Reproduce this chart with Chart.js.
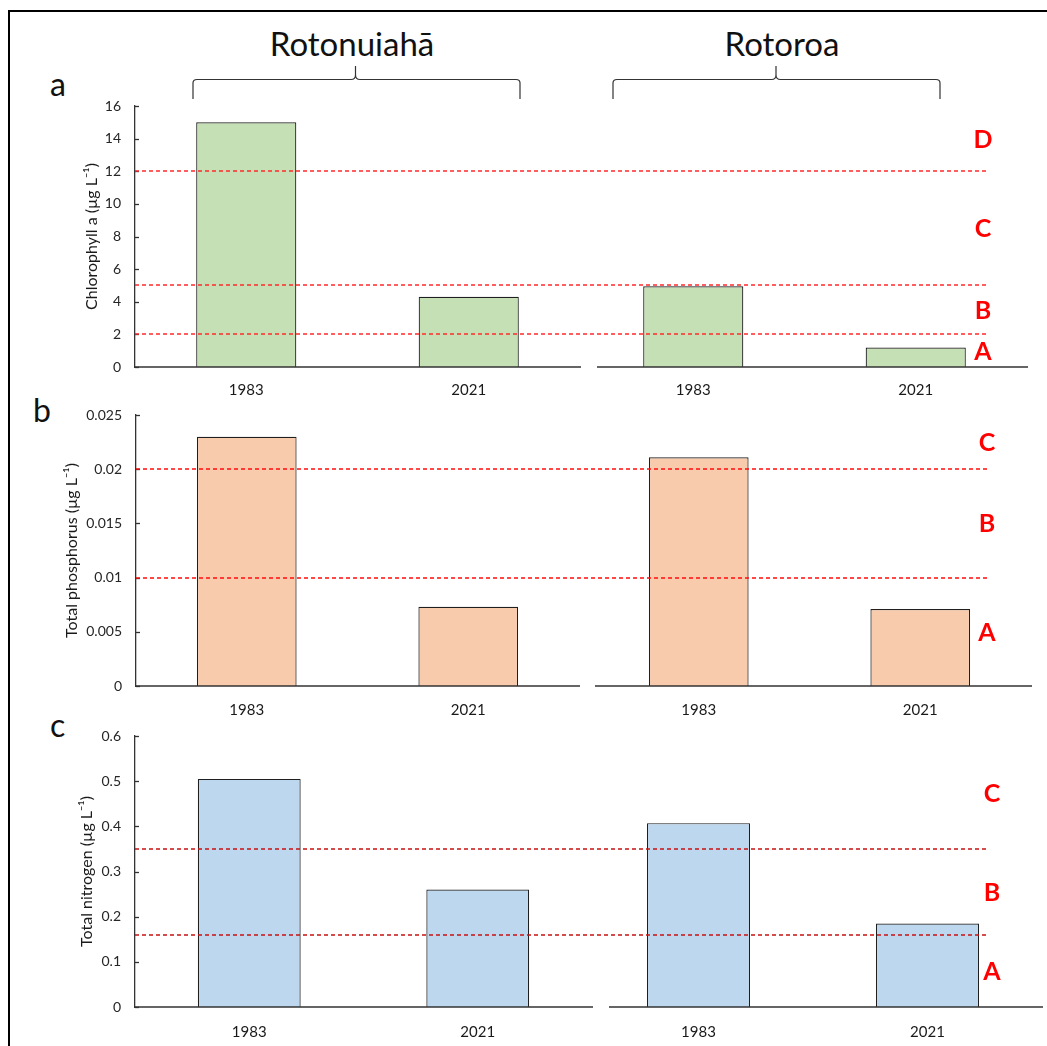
<!DOCTYPE html>
<html>
<head>
<meta charset="utf-8">
<script src="https://cdn.jsdelivr.net/npm/chart.js@4.4.1/dist/chart.umd.min.js"></script>
<style>
  html, body { margin:0; padding:0; background:#fff; }
  body { width:1047px; height:1046px; overflow:hidden; position:relative; font-family: Lato, 'Liberation Sans', sans-serif; }
  canvas { position:absolute; }
  .frame { position:absolute; left:8px; top:10px; width:1200px; height:1200px; border-top:2px solid #000; border-left:2px solid #000; }
  .lake { position:absolute; font-size:33px; line-height:33px; color:#111; transform:translateX(-50%); white-space:nowrap; }
  .panel { position:absolute; font-size:32px; line-height:32px; color:#111; }
  svg { position:absolute; left:0; top:0; }
</style>
</head>
<body>
<div class="frame"></div>
<div class="lake" id="lake0" style="left:352px; top:27px;"></div>
<div class="lake" id="lake1" style="left:782px; top:27px;"></div>
<svg width="1047" height="110">
  <path d="M193,99 V83 Q193,79.5 197,79.5 H351 Q355.5,79.5 355.5,75 V66 M355.5,75 Q355.5,79.5 360,79.5 H516 Q520,79.5 520,83 V99" fill="none" stroke="#333" stroke-width="1.2"/>
  <path d="M613,99 V83 Q613,79.5 617,79.5 H771.5 Q776,79.5 776,75 V66 M776,75 Q776,79.5 780.5,79.5 H936 Q940,79.5 940,83 V99" fill="none" stroke="#333" stroke-width="1.2"/>
</svg>
<div class="panel" style="left:50px; top:68px;">a</div>
<div class="panel" style="left:33px; top:394px;">b</div>
<div class="panel" style="left:50px; top:709px;">c</div>

<script>
// ---------------- data ----------------
const years = ["1983", "2021"];
const lakes = ["Rotonuiahā", "Rotoroa"];

const chlRotonuiaha = [15, 4.3];
const chlRotoroa    = [4.95, 1.2];
const tpRotonuiaha  = [0.023, 0.0073];
const tpRotoroa     = [0.0211, 0.0071];
const tnRotonuiaha  = [0.505, 0.26];
const tnRotoroa     = [0.407, 0.185];

const chlThresholds = [2, 5, 12];
const chlBands      = ["A", "B", "C", "D"];
const tpThresholds  = [0.01, 0.02];
const tpBands       = ["A", "B", "C"];
const tnThresholds  = [0.16, 0.35];
const tnBands       = ["A", "B", "C"];

const chlAxis = { max: 16, step: 2 };
const tpAxis  = { max: 0.025, step: 0.005 };
const tnAxis  = { max: 0.6, step: 0.1 };

const chlTitle = "Chlorophyll a (µg L⁻¹)";
const tpTitle  = "Total phosphorus (µg L⁻¹)";
const tnTitle  = "Total nitrogen (µg L⁻¹)";

// ---------------- layout ----------------
document.getElementById('lake0').textContent = lakes[0];
document.getElementById('lake1').textContent = lakes[1];

const W = 1047;
Chart.defaults.font.family = "Lato, 'Liberation Sans', sans-serif";

const rows = [
  { values:[chlRotonuiaha, chlRotoroa], thresholds:chlThresholds, bands:chlBands, axis:chlAxis, title:chlTitle,
    color:'#C5E0B4', dash:'#ff2a2a',
    L:{ top:106, bottom:367, left:[135,580], right:[582,1027], baseFrom:597, lineEnd:986, bandX:983, titlePad:82, tickPad:14 } },
  { values:[tpRotonuiaha, tpRotoroa], thresholds:tpThresholds, bands:tpBands, axis:tpAxis, title:tpTitle,
    color:'#F8CBAD', dash:'#ff0c0c',
    L:{ top:415, bottom:686, left:[136,579], right:[588,1031], baseFrom:595, lineEnd:987, bandX:987, titlePad:62, tickPad:15 } },
  { values:[tnRotonuiaha, tnRotoroa], thresholds:tnThresholds, bands:tnBands, axis:tnAxis, title:tnTitle,
    color:'#BDD7EE', dash:'#c81212',
    L:{ top:736, bottom:1007, left:[135,592], right:[584,1042], baseFrom:609, lineEnd:987, bandX:992, titlePad:77, tickPad:16 } }
];

function overlay(o) {
  return {
    id: 'overlay',
    afterDatasetsDraw(chart) {
      const { ctx, chartArea: ca } = chart;
      const y = chart.scales.y;
      ctx.save();
      ctx.strokeStyle = '#333333';
      ctx.lineWidth = 1.3;
      ctx.setLineDash([]);
      ctx.beginPath();
      ctx.moveTo(o.baseFrom, ca.bottom);
      ctx.lineTo(ca.right + 1, ca.bottom);
      ctx.stroke();
      if (o.ticks) {
        y.ticks.forEach((t, i) => {
          const py = Math.round(y.getPixelForTick(i)) + 0.5;
          ctx.beginPath();
          ctx.moveTo(ca.left, py);
          ctx.lineTo(ca.left + 4, py);
          ctx.stroke();
        });
      }
      ctx.strokeStyle = o.dashColor;
      ctx.lineWidth = 1.3;
      ctx.setLineDash([4, 3]);
      ctx.lineDashOffset = o.dashOffset;
      o.thresholds.forEach(v => {
        const py = Math.round(y.getPixelForValue(v));
        ctx.beginPath();
        ctx.moveTo(o.dashFrom, py);
        ctx.lineTo(o.dashTo, py);
        ctx.stroke();
      });
      if (o.bands) {
        ctx.setLineDash([]);
        ctx.fillStyle = '#ff0000';
        ctx.font = "bold 25px Lato, 'Liberation Sans', sans-serif";
        ctx.textAlign = 'center';
        ctx.textBaseline = 'middle';
        const bounds = [y.min, ...o.thresholds, y.max];
        o.bands.forEach((b, i) => {
          const v = (bounds[i] + bounds[i + 1]) / 2;
          ctx.fillText(b, o.bandX, y.getPixelForValue(v) + 1);
        });
      }
      ctx.restore();
    }
  };
}

function makeChart(row, side) {
  const L = row.L;
  const isLeft = side === 0;
  const range = isLeft ? L.left : L.right;
  const padTop = 26, xH = 40;
  const canvasLeft = isLeft ? 0 : range[0] - 10;
  const canvasRight = isLeft ? range[1] + 8 : W;
  const width = canvasRight - canvasLeft;
  const height = padTop + (L.bottom - L.top) + xH;
  const canvas = document.createElement('canvas');
  canvas.width = width; canvas.height = height;
  canvas.style.left = canvasLeft + 'px';
  canvas.style.top = (L.top - padTop) + 'px';
  canvas.style.width = width + 'px';
  canvas.style.height = height + 'px';
  document.body.appendChild(canvas);

  const split = L.left[1] + 2;
  const o = {
    baseFrom: isLeft ? range[0] : L.baseFrom - canvasLeft,
    ticks: isLeft,
    dashColor: row.dash,
    thresholds: row.thresholds,
    dashFrom: isLeft ? range[0] : split - canvasLeft,
    dashTo: isLeft ? split : L.lineEnd - canvasLeft,
    dashOffset: isLeft ? 0 : (split - L.left[0]) % 7,
    bands: isLeft ? null : row.bands,
    bandX: L.bandX - canvasLeft
  };

  const padLeft = isLeft ? 0 : range[0] - canvasLeft;
  const padRight = canvasRight - range[1];

  const chart = new Chart(canvas, {
    type: 'bar',
    data: {
      labels: years,
      datasets: [{
        label: lakes[side],
        data: row.values[side],
        backgroundColor: row.color,
        borderColor: '#1f1f1f',
        borderWidth: 1.2,
        barPercentage: 0.45,
        categoryPercentage: 1
      }]
    },
    options: {
      responsive: false,
      animation: false,
      devicePixelRatio: 1,
      layout: { padding: { top: padTop, bottom: 0, left: padLeft, right: padRight } },
      plugins: { legend: { display: false }, tooltip: { enabled: false } },
      scales: {
        x: {
          grid: { display: false, drawTicks: false },
          border: { display: false },
          ticks: { padding: L.tickPad, font: { size: 15 }, color: '#1a1a1a', maxRotation: 0, autoSkip: false },
          afterFit: s => { s.height = xH; }
        },
        y: {
          display: isLeft,
          min: 0,
          max: row.axis.max,
          grid: { display: false, drawTicks: false },
          border: { display: true, color: '#333333', width: 1.3 },
          ticks: {
            stepSize: row.axis.step,
            padding: 14,
            font: { size: 14 },
            color: '#262626',
            callback: v => String(parseFloat(Number(v).toFixed(4)))
          },
          title: { display: true, text: row.title, font: { size: 16 }, color: '#1a1a1a', padding: { top: L.titlePad, bottom: 0 } },
          afterFit: s => { if (isLeft) s.width = range[0]; }
        }
      }
    },
    plugins: [overlay(o)]
  });

  // make the plot area land exactly where the reference has it
  let pt = padTop, pb = 0, pl = padLeft, pr = padRight;
  for (let k = 0; k < 4; k++) {
    const ca = chart.chartArea;
    const dTop = ca.top - padTop;
    const dBottom = (height - xH) - ca.bottom;
    const dLeft = ca.left - (range[0] - canvasLeft);
    const dRight = (range[1] - canvasLeft) - ca.right;
    if (Math.abs(dTop) < 0.5 && Math.abs(dBottom) < 0.5 && Math.abs(dLeft) < 0.5 && Math.abs(dRight) < 0.5) break;
    pt -= dTop; pb -= dBottom; pl -= dLeft; pr -= dRight;
    chart.options.layout.padding = { top: pt, bottom: pb, left: pl, right: pr };
    chart.update('none');
  }
}

rows.forEach(r => { makeChart(r, 0); makeChart(r, 1); });
</script>
</body>
</html>
